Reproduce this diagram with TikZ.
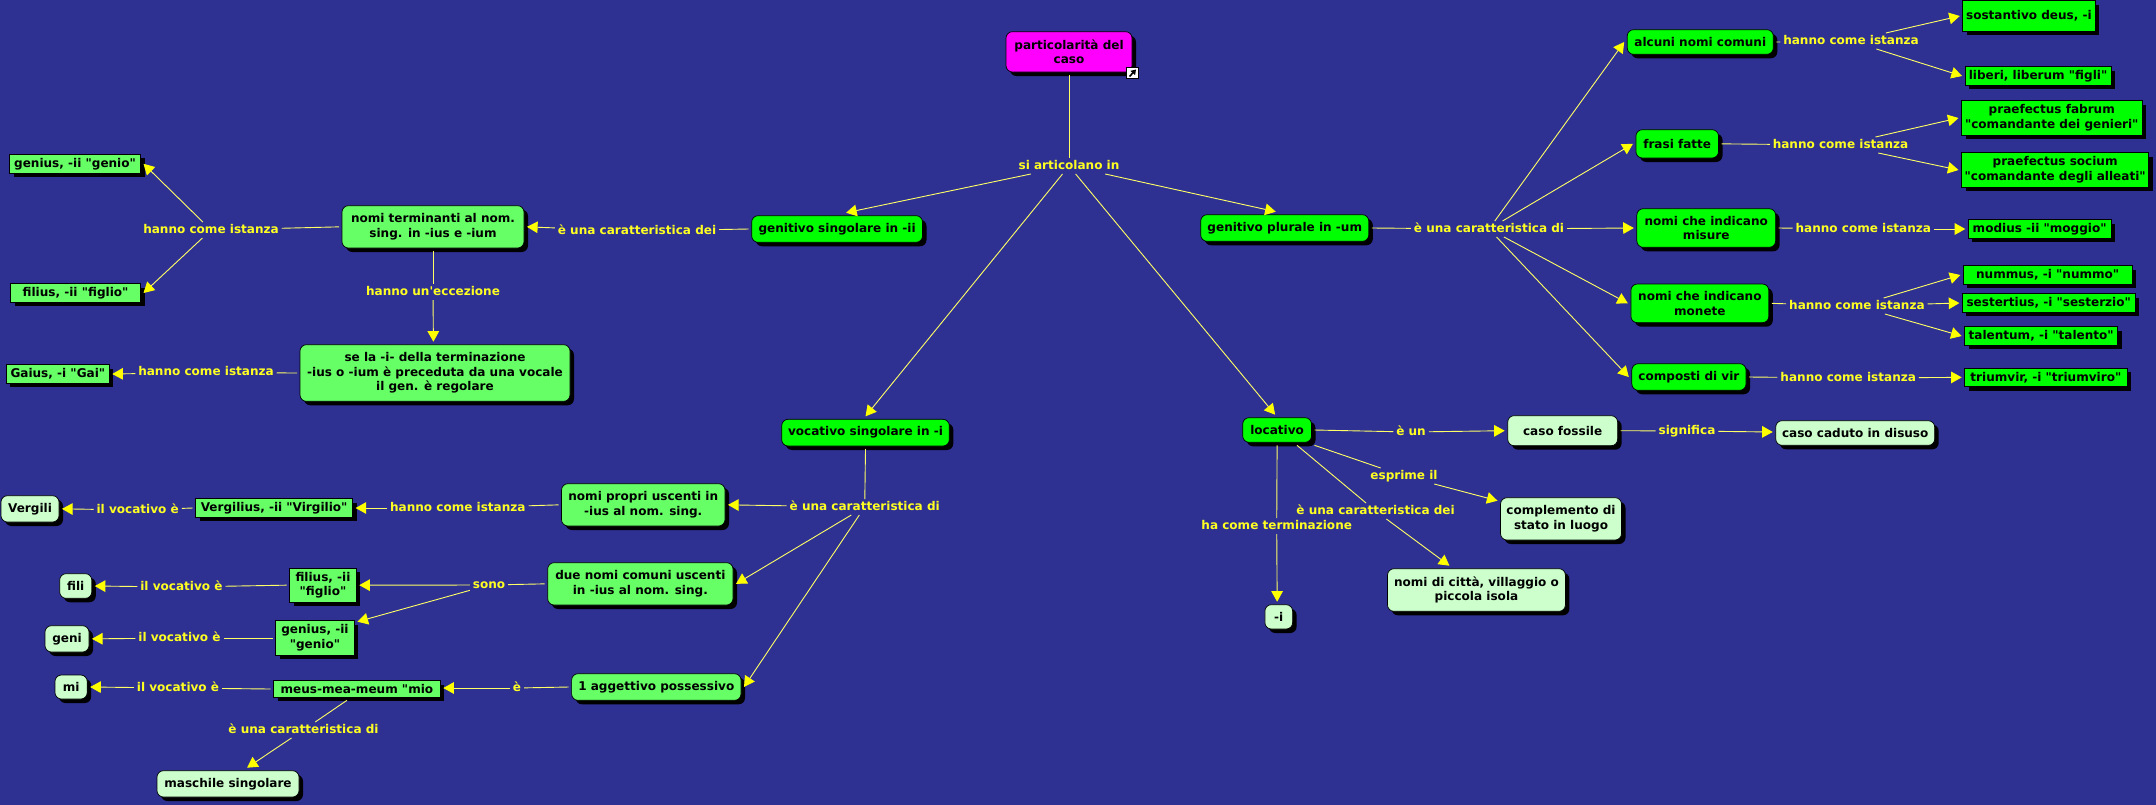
\documentclass[tikz,border=0pt]{standalone}
\usepackage{fontspec}
\newfontfamily\mapfont{DejaVu Sans}
\usetikzlibrary{arrows.meta,shadows,calc}
\definecolor{bgblue}{HTML}{2E3192}
\definecolor{linecol}{HTML}{FFFF66}
\definecolor{tipcol}{HTML}{FFFF00}
\definecolor{labcol}{HTML}{FFFF22}
\definecolor{midgreen}{HTML}{66FF66}
\definecolor{palegreen}{HTML}{CCFFCC}
\definecolor{rootcol}{HTML}{FF00FF}
\definecolor{puregreen}{HTML}{00FF00}
\tikzset{
  x=0.5pt,y=-0.5pt,
  basebox/.style={draw=black,line width=0.35pt,inner sep=0pt,outer sep=1.5pt,align=center,text=black,
    font=\mapfont\fontsize{6.02}{7.35}\selectfont\bfseries,
    general shadow={fill=black,shadow xshift=2pt,shadow yshift=-2pt}},
  rnd/.style={basebox,rounded corners=3.2pt},
  sq/.style={basebox},
  root/.style={rnd,fill=rootcol},
  gA/.style={rnd,fill=puregreen},
  gB/.style={rnd,fill=midgreen},
  gC/.style={rnd,fill=palegreen},
  inst/.style={sq,fill=midgreen},
  instA/.style={sq,fill=puregreen},
  lbl/.style={inner xsep=1.5pt,inner ysep=1pt,outer sep=0pt,text=labcol,text height=4.6pt,text depth=1.4pt,
    yshift=-1pt,font=\mapfont\fontsize{6.02}{7.35}\selectfont\bfseries},
  conn/.style={draw=linecol,line width=0.45pt},
  arr/.style={conn,-{Triangle[length=5.3pt,width=5.8pt,color=tipcol]}},
}
\newcommand\mybox[7]{%
  \pgfmathsetmacro\mycx{(#3+#5)/2}\pgfmathsetmacro\mycy{(#4+#6)/2}%
  \pgfmathsetmacro\myw{(#5-#3)*0.5}\pgfmathsetmacro\myh{(#6-#4)*0.5}%
  \node[#2,minimum width=\myw pt,minimum height=\myh pt] (#1) at (\mycx,\mycy) {#7};}
\begin{document}
\begin{tikzpicture}
\useasboundingbox (0,0) rectangle (2156,804);
\fill[bgblue] (-4,-4) rectangle (2160,808);
% concept boxes
\mybox{part}{root}{1006}{31.7}{1132}{72}{particolarità del\\caso}
\mybox{gsing}{gA}{751.7}{215.7}{922.5}{242.3}{genitivo singolare in -ii}
\mybox{gplur}{gA}{1200.7}{214.7}{1368.8}{241.3}{genitivo plurale in -um}
\mybox{voc}{gA}{781.7}{419.3}{949.3}{446}{vocativo singolare in -i}
\mybox{loc}{gA}{1242.7}{417.7}{1311.5}{442.3}{locativo}
\mybox{nterm}{gB}{342}{205.7}{524}{248}{nomi terminanti al nom.\\sing. in -ius e -ium}
\mybox{sela}{gB}{300}{344.7}{570}{401.3}{se la -i- della terminazione\\-ius o -ium è preceduta da una vocale\\il gen. è regolare}
\mybox{nprop}{gB}{561.5}{483.7}{725}{526}{nomi propri uscenti in\\-ius al nom. sing.}
\mybox{due}{gB}{547.7}{562.7}{733}{605}{due nomi comuni uscenti\\in -ius al nom. sing.}
\mybox{agg}{gB}{571.6}{673.7}{741}{700.3}{1 aggettivo possessivo}
\mybox{alc}{gA}{1627.2}{29.7}{1773.3}{54.3}{alcuni nomi comuni}
\mybox{frasi}{gA}{1635.9}{129.7}{1718.5}{158}{frasi fatte}
\mybox{mis}{gA}{1636.8}{208.7}{1775.6}{247.3}{nomi che indicano\\misure}
\mybox{mon}{gA}{1630.9}{284}{1768.8}{322.7}{nomi che indicano\\monete}
\mybox{comp}{gA}{1631.8}{363.7}{1746}{390.3}{composti di vir}
\mybox{foss}{gC}{1507.7}{415.7}{1617.6}{445.7}{caso fossile}
\mybox{cad}{gC}{1775.7}{420.7}{1934.7}{445.3}{caso caduto in disuso}
\mybox{cmpl}{gC}{1500.5}{497.7}{1621.5}{540}{complemento di\\stato in luogo}
\mybox{citta}{gC}{1387.5}{568.7}{1565.4}{611.3}{nomi di città, villaggio o\\piccola isola}
\mybox{termi}{gC}{1264.9}{604.7}{1292.6}{629}{-i}
\mybox{verg}{gC}{1}{495.7}{59}{522}{Vergili}
\mybox{fili}{gC}{59.7}{573.7}{91.8}{598.3}{fili}
\mybox{geni}{gC}{45}{625.7}{89}{652}{geni}
\mybox{mi}{gC}{55}{675}{87.2}{699}{mi}
\mybox{masc}{gC}{157}{770.7}{299}{797}{maschile singolare}
% instance boxes
\mybox{igen}{inst}{9.6}{154.3}{140.5}{173.3}{genius, -ii "genio"}
\mybox{ifil}{inst}{10.6}{283.7}{140.5}{302.3}{filius, -ii "figlio"}
\mybox{igai}{inst}{6.4}{364.7}{109.3}{383.3}{Gaius, -i "Gai"}
\mybox{ivir}{inst}{195.6}{498.7}{352.6}{517.3}{Vergilius, -ii "Virgilio"}
\mybox{ifil2}{inst}{289.7}{568}{356.3}{602.3}{filius, -ii\\"figlio"}
\mybox{igen2}{inst}{275.5}{620.7}{354.4}{655.3}{genius, -ii\\"genio"}
\mybox{imeus}{inst}{273.6}{680.7}{440.3}{697.3}{meus-mea-meum "mio}
\mybox{isos}{instA}{1962.8}{0.7}{2095}{31.3}{sostantivo deus, -i}
\mybox{ilib}{instA}{1965}{66.7}{2111}{85.3}{liberi, liberum "figli"}
\mybox{ifab}{instA}{1961.5}{100.7}{2142}{135.3}{praefectus fabrum\\"comandante dei genieri"}
\mybox{isoc}{instA}{1961.5}{152.7}{2148.7}{187.3}{praefectus socium\\"comandante degli alleati"}
\mybox{imod}{instA}{1968.3}{219.7}{2111}{238.3}{modius -ii "moggio"}
\mybox{inum}{instA}{1963.3}{265.7}{2132}{284.3}{nummus, -i "nummo"}
\mybox{ises}{instA}{1962.4}{293.7}{2135}{312.3}{sestertius, -i "sesterzio"}
\mybox{ital}{instA}{1964.7}{326.7}{2117.6}{345.3}{talentum, -i "talento"}
\mybox{itri}{instA}{1964.7}{368}{2127}{386.7}{triumvir, -i "triumviro"}
% link icon
\draw[fill=white,draw=black,line width=0.4pt] (1126.5,67) rectangle (1138,78.5);
\draw[black,line width=0.8pt,-{Triangle[length=2.4pt,width=3pt]}] (1129.5,76.5) -- (1136,69.5);
% labels
\node[lbl] (lsi) at (1069,164) {si articolano in};
\node[lbl] (lcd) at (637,229) {è una caratteristica dei};
\node[lbl] (lh1) at (211,228) {hanno come istanza};
\node[lbl] (lecc) at (433,290) {hanno un'eccezione};
\node[lbl] (lh2) at (206,370.5) {hanno come istanza};
\node[lbl] (lcv) at (864.7,505) {è una caratteristica di};
\node[lbl] (lh3) at (457.8,506) {hanno come istanza};
\node[lbl] (lv1) at (137.7,508) {il vocativo è};
\node[lbl] (lsono) at (489,583) {sono};
\node[lbl] (lv2) at (181.4,585) {il vocativo è};
\node[lbl] (lv3) at (179.5,636) {il vocativo è};
\node[lbl] (lv4) at (178,686) {il vocativo è};
\node[lbl] (le) at (517,686) {è};
\node[lbl] (lcm) at (303.5,728) {è una caratteristica di};
\node[lbl] (lcp) at (1489,227) {è una caratteristica di};
\node[lbl] (lh4) at (1851,39) {hanno come istanza};
\node[lbl] (lh5) at (1840.5,143) {hanno come istanza};
\node[lbl] (lh6) at (1863.3,227) {hanno come istanza};
\node[lbl] (lh7) at (1856.9,304) {hanno come istanza};
\node[lbl] (lh8) at (1848.2,376) {hanno come istanza};
\node[lbl] (lun) at (1411,430) {è un};
\node[lbl] (lsig) at (1687,429) {significa};
\node[lbl] (lesp) at (1404,474) {esprime il};
\node[lbl] (lcl) at (1375.6,509) {è una caratteristica dei};
\node[lbl] (lter) at (1276.7,524) {ha come terminazione};
% connectors
\draw[conn] (part.south) -- (lsi);
\draw[arr] (lsi) -- ([xshift=4.5pt]gsing.north);
\draw[arr] (lsi) -- ([xshift=-4.5pt]gplur.north);
\draw[arr] (lsi) -- (voc.north);
\draw[arr] (lsi) -- ([xshift=-1pt]loc.north);
\draw[conn] (gsing.west) -- (lcd);
\draw[arr] (lcd) -- (nterm.east);
\draw[conn] (nterm.west) -- (lh1);
\draw[arr] (lh1) -- (igen.east);
\draw[arr] (lh1) -- (ifil.east);
\draw[conn] (nterm.south) -- (lecc);
\draw[arr] (lecc) -- ([xshift=-0.8pt]sela.north);
\draw[conn] (sela.west) -- (lh2);
\draw[arr] (lh2) -- (igai.east);
\draw[conn] (voc.south) -- (lcv);
\draw[arr] (lcv) -- (nprop.east);
\draw[arr] (lcv) -- (due.east);
\draw[arr] (lcv) -- (agg.east);
\draw[conn] (nprop.west) -- (lh3);
\draw[arr] (lh3) -- (ivir.east);
\draw[conn] (ivir.west) -- (lv1);
\draw[arr] (lv1) -- (verg.east);
\draw[conn] (due.west) -- (lsono);
\draw[arr] (lsono) -- (ifil2.east);
\draw[arr] (lsono) -- ([yshift=-2pt]igen2.north east);
\draw[conn] (ifil2.west) -- (lv2);
\draw[arr] (lv2) -- (fili.east);
\draw[conn] (igen2.west) -- (lv3);
\draw[arr] (lv3) -- (geni.east);
\draw[conn] (agg.west) -- (le);
\draw[arr] (le) -- ([yshift=0.5pt]imeus.east);
\draw[conn] (imeus.west) -- (lv4);
\draw[arr] (lv4) -- (mi.east);
\draw[conn] ([xshift=-5pt]imeus.south) -- (lcm);
\draw[arr] (lcm) -- ([xshift=9.5pt]masc.north);
\draw[conn] (gplur.east) -- (lcp);
\draw[arr] (lcp) -- (alc.west);
\draw[arr] (lcp) -- (frasi.west);
\draw[arr] (lcp) -- (mis.west);
\draw[arr] (lcp) -- (mon.west);
\draw[arr] (lcp) -- (comp.west);
\draw[conn] (alc.east) -- (lh4);
\draw[arr] (lh4) -- (isos.west);
\draw[arr] (lh4) -- (ilib.west);
\draw[conn] (frasi.east) -- (lh5);
\draw[arr] (lh5) -- (ifab.west);
\draw[arr] (lh5) -- (isoc.west);
\draw[conn] (mis.east) -- (lh6);
\draw[arr] (lh6) -- (imod.west);
\draw[conn] (mon.east) -- (lh7);
\draw[arr] (lh7) -- (inum.west);
\draw[arr] (lh7) -- (ises.west);
\draw[arr] (lh7) -- (ital.west);
\draw[conn] (comp.east) -- (lh8);
\draw[arr] (lh8) -- (itri.west);
\draw[conn] (loc.east) -- (lun);
\draw[arr] (lun) -- (foss.west);
\draw[conn] (foss.east) -- (lsig);
\draw[arr] (lsig) -- ([yshift=0.5pt]cad.west);
\draw[conn] (loc.south east) -- (lesp);
\draw[arr] (lesp) -- ([yshift=-3pt]cmpl.north west);
\draw[conn] ([xshift=-8.75pt]loc.south east) -- (lcl);
\draw[arr] (lcl) -- ([xshift=-13.5pt]citta.north);
\draw[conn] (loc.south) -- (lter);
\draw[arr] (lter) -- ([xshift=-0.8pt]termi.north);
\end{tikzpicture}
\end{document}
